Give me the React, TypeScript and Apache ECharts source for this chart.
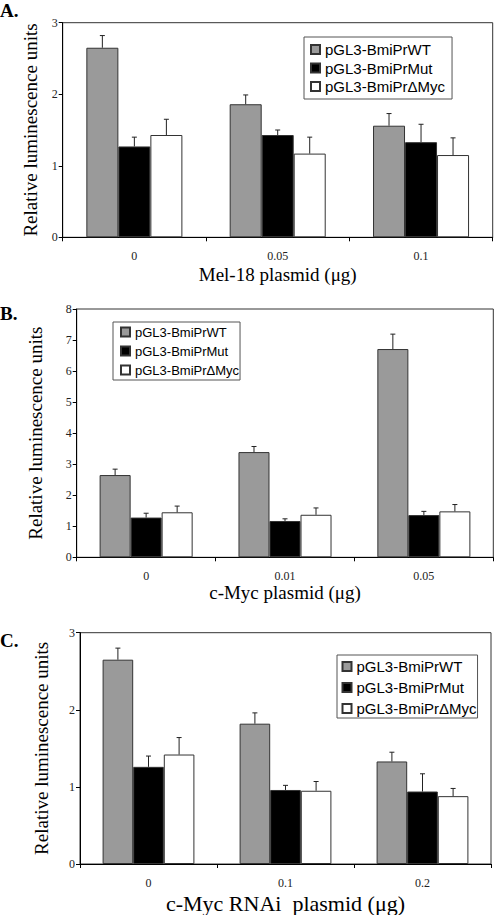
import React, { useEffect, useRef } from 'react';
import * as echarts from 'echarts';

const SERIES_NAMES = ['pGL3-BmiPrWT', 'pGL3-BmiPrMut', 'pGL3-BmiPrΔMyc'];
const SERIES_COLORS = ['#9a9a9a', '#000000', '#ffffff'];

// Panel A: Mel-18 plasmid
const categoriesA = ['0', '0.05', '0.1'];
const wtA = [2.65, 1.86, 1.56];
const wtErrA = [0.17, 0.13, 0.17];
const mutA = [1.27, 1.43, 1.33];
const mutErrA = [0.13, 0.07, 0.25];
const dmycA = [1.43, 1.17, 1.15];
const dmycErrA = [0.22, 0.23, 0.24];

// Panel B: c-Myc plasmid
const categoriesB = ['0', '0.01', '0.05'];
const wtB = [2.65, 3.39, 6.71];
const wtErrB = [0.19, 0.18, 0.48];
const mutB = [1.28, 1.17, 1.36];
const mutErrB = [0.14, 0.07, 0.12];
const dmycB = [1.45, 1.37, 1.48];
const dmycErrB = [0.2, 0.22, 0.22];

// Panel C: c-Myc RNAi plasmid
const categoriesC = ['0', '0.1', '0.2'];
const wtC = [2.65, 1.82, 1.33];
const wtErrC = [0.15, 0.14, 0.12];
const mutC = [1.26, 0.96, 0.94];
const mutErrC = [0.14, 0.06, 0.23];
const dmycC = [1.42, 0.95, 0.88];
const dmycErrC = [0.22, 0.12, 0.1];

const SERIF = 'Liberation Serif';
const SANS = 'Liberation Sans';
const GAP = 0.33;

type Panel = {
  cats: string[];
  vals: number[][];
  errs: number[][];
  max: number;
  xName: string;
  xNameSize: number;
  grid: { left: number; right: number; top: number; height: number };
  xNameGap: number;
  yNameGap: number;
  legend: { left: number; top: number; fontSize: number; itemGap: number; padding: number[] };
  label: string;
  labelY: number;
};

const panels: Panel[] = [
  {
    cats: categoriesA,
    vals: [wtA, mutA, dmycA],
    errs: [wtErrA, mutErrA, dmycErrA],
    max: 3,
    xName: 'Mel-18 plasmid (μg)',
    xNameSize: 19,
    grid: { left: 62.7, right: 2.3, top: 22.7, height: 214.6 },
    xNameGap: 28,
    yNameGap: 23,
    legend: { left: 304, top: 37, fontSize: 15, itemGap: 3.5, padding: [5, 7, 5, 6] },
    label: 'A.',
    labelY: 1,
  },
  {
    cats: categoriesB,
    vals: [wtB, mutB, dmycB],
    errs: [wtErrB, mutErrB, dmycErrB],
    max: 8,
    xName: 'c-Myc plasmid (μg)',
    xNameSize: 19,
    grid: { left: 76.7, right: 1.7, top: 309, height: 248.3 },
    xNameGap: 26,
    yNameGap: 32,
    legend: { left: 113, top: 322, fontSize: 13, itemGap: 6, padding: [3.5, 1, 3.5, 7] },
    label: 'B.',
    labelY: 304,
  },
  {
    cats: categoriesC,
    vals: [wtC, mutC, dmycC],
    errs: [wtErrC, mutErrC, dmycErrC],
    max: 3,
    xName: 'c-Myc RNAi  plasmid (μg)',
    xNameSize: 22,
    grid: { left: 80, right: 4, top: 632.7, height: 231.6 },
    xNameGap: 28,
    yNameGap: 29,
    legend: { left: 337, top: 655, fontSize: 15, itemGap: 6, padding: [4, 1, 2, 4.5] },
    label: 'C.',
    labelY: 631,
  },
];

function buildOption() {
  const grid: any[] = [];
  const xAxis: any[] = [];
  const yAxis: any[] = [];
  const series: any[] = [];
  const legend: any[] = [];
  const graphic: any[] = [];

  panels.forEach((p, gi) => {
    grid.push({
      ...p.grid,
      show: true,
      borderColor: '#333',
      borderWidth: 1,
      backgroundColor: 'transparent',
      containLabel: false,
    });
    xAxis.push({
      type: 'category',
      gridIndex: gi,
      data: p.cats,
      boundaryGap: true,
      axisLine: { show: true, lineStyle: { color: '#000', width: 1 } },
      axisTick: { show: true, length: 4, alignWithLabel: false, lineStyle: { color: '#000' } },
      axisLabel: { fontSize: 12, color: '#222', margin: 13, fontFamily: SERIF },
      name: p.xName,
      nameLocation: 'middle',
      nameGap: p.xNameGap,
      nameTextStyle: { fontSize: p.xNameSize, color: '#000', fontFamily: SERIF },
      splitLine: { show: false },
    });
    yAxis.push({
      type: 'value',
      gridIndex: gi,
      min: 0,
      max: p.max,
      interval: 1,
      axisLine: { show: true, lineStyle: { color: '#000', width: 1 } },
      axisTick: { show: true, length: 4, lineStyle: { color: '#000' } },
      axisLabel: { fontSize: 12, color: '#222', margin: 5, fontFamily: SERIF },
      splitLine: { show: false },
      name: 'Relative luminescence units',
      nameLocation: 'middle',
      nameRotate: 90,
      nameGap: p.yNameGap,
      nameTextStyle: { fontSize: 19, color: '#000', fontFamily: SERIF },
    });
    p.vals.forEach((vals, k) => {
      series.push({
        type: 'bar',
        name: SERIES_NAMES[k],
        xAxisIndex: gi,
        yAxisIndex: gi,
        data: vals,
        barGap: '0%',
        barCategoryGap: '33%',
        itemStyle: { color: SERIES_COLORS[k], borderColor: '#333', borderWidth: 1 },
        emphasis: { disabled: true },
      });
    });
    p.vals.forEach((vals, k) => {
      const errs = p.errs[k];
      series.push({
        type: 'custom',
        xAxisIndex: gi,
        yAxisIndex: gi,
        silent: true,
        z: 5,
        data: vals.map((v, i) => [i, v, errs[i]]),
        encode: { x: 0, y: 1 },
        renderItem: (params: any, api: any) => {
          const i = api.value(0);
          const v = api.value(1);
          const e = api.value(2);
          const p0 = api.coord([i, v]);
          const p1 = api.coord([i, v + e]);
          const band = api.size([1, 0])[0];
          const bw = (band * (1 - GAP)) / 3;
          const x = p0[0] + (k - 1) * bw;
          return {
            type: 'group',
            children: [
              { type: 'line', shape: { x1: x, y1: p0[1], x2: x, y2: p1[1] }, style: { stroke: '#222', lineWidth: 1 } },
              { type: 'line', shape: { x1: x - 2.5, y1: p1[1], x2: x + 2.5, y2: p1[1] }, style: { stroke: '#222', lineWidth: 1 } },
            ],
          };
        },
      });
    });
    legend.push({
      data: SERIES_NAMES,
      orient: 'vertical',
      left: p.legend.left,
      top: p.legend.top,
      icon: 'rect',
      itemWidth: 9,
      itemHeight: 9,
      itemGap: p.legend.itemGap,
      padding: p.legend.padding,
      borderColor: '#555',
      borderWidth: 1,
      backgroundColor: '#fff',
      selectedMode: false,
      textStyle: { fontSize: p.legend.fontSize, fontFamily: SANS, color: '#000' },
    });
    graphic.push({
      type: 'text',
      left: 0,
      top: p.labelY,
      style: { text: p.label, font: `bold 19px ${SERIF}`, fill: '#000' },
    });
  });

  return {
    animation: false,
    backgroundColor: '#fff',
    textStyle: { fontFamily: SERIF },
    grid,
    xAxis,
    yAxis,
    series,
    legend,
    graphic,
  };
}

export default function App() {
  const ref = useRef<HTMLDivElement>(null);
  useEffect(() => {
    if (!ref.current) return;
    const chart = echarts.init(ref.current, undefined, { renderer: 'svg' });
    chart.setOption(buildOption() as any);
    return () => chart.dispose();
  }, []);
  return (
    <div
      ref={ref}
      style={{ position: 'absolute', left: 0, top: 0, width: 495, height: 915, background: '#fff' }}
    />
  );
}
